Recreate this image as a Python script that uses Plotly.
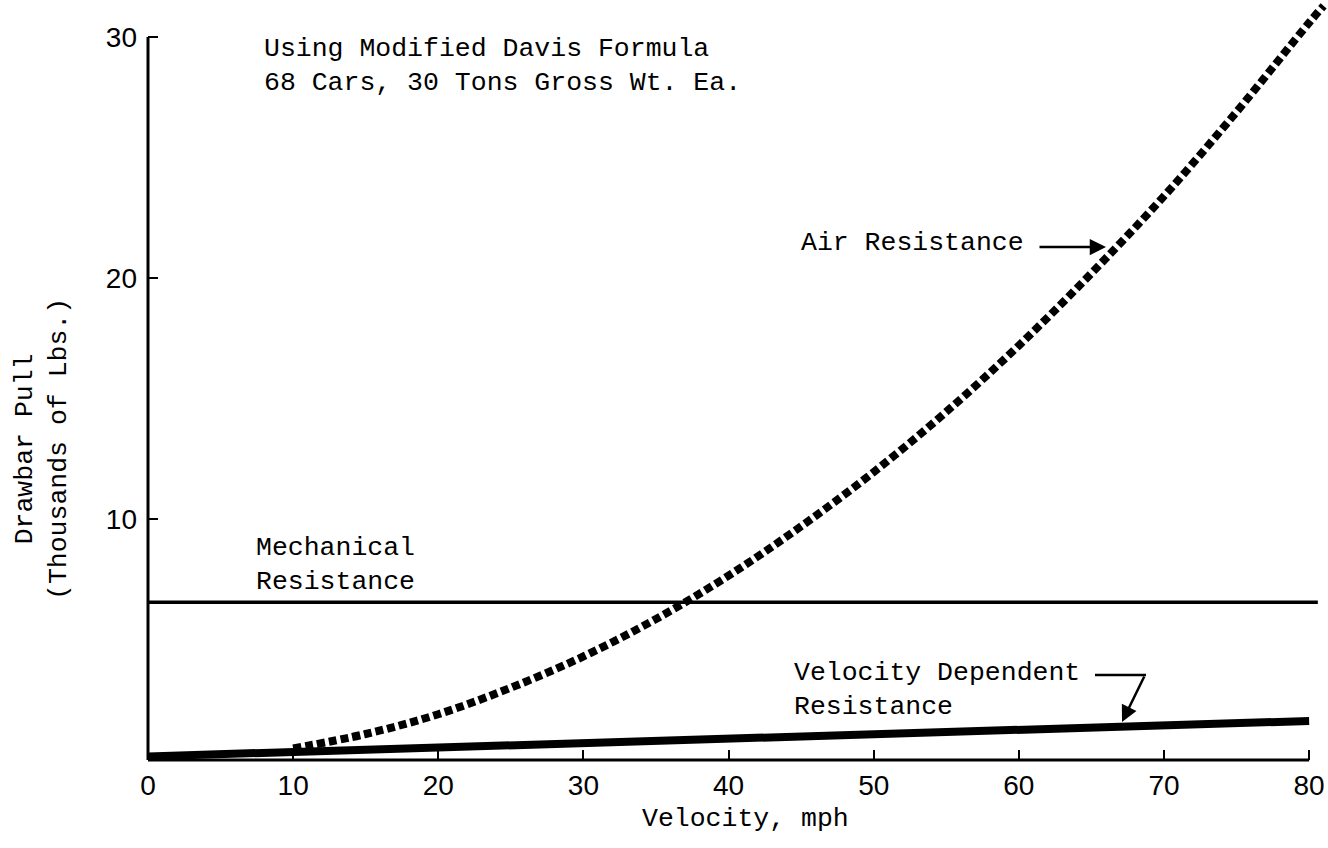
import plotly.graph_objects as go

# ---- data ----
velocity_mech = [0, 80.6]
mechanical = [6.55, 6.55]

velocity_vd = [0, 80]
velocity_dependent = [0.15, 1.62]

velocity_air = [10, 15, 20, 25, 30, 35, 40, 45, 50, 55, 60, 65, 70, 75, 80, 81]
air_resistance = [0.48, 1.08, 1.9, 3.0, 4.3, 5.85, 7.65, 9.7, 11.95, 14.45,
                  17.2, 20.2, 23.4, 26.9, 30.6, 31.3]

x_ticks = [0, 10, 20, 30, 40, 50, 60, 70, 80]
y_ticks = [10, 20, 30]

XMAX = 81.3
YMAX = 31.54

MONO = "Liberation Mono, Courier New, monospace"
SANS = "Liberation Sans, Arial, sans-serif"

# plot area in pixels (for placing labels)
L, R, T, B = 148, 0, 0, 88
W, H = 1328, 848
PW, PH = W - L - R, H - T - B


def px(x):
    return (x - L) / PW


def py(y):
    return (H - B - y) / PH


fig = go.Figure()

fig.add_trace(go.Scatter(x=velocity_mech, y=mechanical, mode="lines",
                         line=dict(color="black", width=3.5),
                         name="Mechanical Resistance", showlegend=False))
fig.add_trace(go.Scatter(x=velocity_vd, y=velocity_dependent, mode="lines",
                         line=dict(color="black", width=8),
                         name="Velocity Dependent Resistance", showlegend=False))
fig.add_trace(go.Scatter(x=velocity_air, y=air_resistance, mode="lines",
                         line=dict(color="black", width=8, dash="8px,4px",
                                   shape="spline"),
                         name="Air Resistance", showlegend=False))

annotations = []


def label(text, x, y, size=26.5, xanchor="left", yanchor="middle", angle=0, align="left"):
    annotations.append(dict(text=text, x=px(x), y=py(y), xref="paper", yref="paper",
                            xanchor=xanchor, yanchor=yanchor, showarrow=False,
                            textangle=angle, align=align,
                            font=dict(family=MONO, size=size, color="black")))


label("Using Modified Davis Formula<br>68 Cars, 30 Tons Gross Wt. Ea.", 262, 66)
label("Mechanical<br>Resistance", 254, 565)
label("Air Resistance", 799, 243)
label("Velocity Dependent<br>Resistance", 792, 690)
label("Velocity, mph", 745, 819, xanchor="center")
label("Drawbar Pull<br>(Thousands of Lbs.)", 42, 449, xanchor="center", angle=-90,
      align="center")

# arrows
annotations.append(dict(x=px(1106), y=py(247), xref="paper", yref="paper",
                        ax=-68, ay=0, axref="pixel", ayref="pixel", text="",
                        showarrow=True, arrowhead=2, arrowsize=1.3, arrowwidth=2.5,
                        arrowcolor="black"))
annotations.append(dict(x=px(1122), y=py(722), xref="paper", yref="paper",
                        ax=23, ay=-47, axref="pixel", ayref="pixel", text="",
                        showarrow=True, arrowhead=2, arrowsize=1.3, arrowwidth=2.5,
                        arrowcolor="black"))

shapes = [
    # y axis line (0..30)
    dict(type="line", xref="paper", yref="paper", x0=0, x1=0, y0=0, y1=30 / YMAX,
         line=dict(color="black", width=3)),
    # x axis line (0..80)
    dict(type="line", xref="paper", yref="paper", x0=0, x1=80 / XMAX, y0=0, y1=0,
         line=dict(color="black", width=3)),
    # leader for velocity-dependent label
    dict(type="line", xref="paper", yref="paper", x0=px(1095), x1=px(1146),
         y0=py(675), y1=py(675), line=dict(color="black", width=2.5)),
]

fig.update_layout(
    width=W, height=H,
    margin=dict(l=L, r=R, t=T, b=B, autoexpand=False),
    paper_bgcolor="white", plot_bgcolor="white",
    annotations=annotations, shapes=shapes,
    xaxis=dict(range=[0, XMAX], tickvals=x_ticks, ticktext=[str(v) for v in x_ticks],
               ticks="inside", ticklen=10, tickwidth=2, tickcolor="black",
               showgrid=False, zeroline=False, showline=False, automargin=False,
               ticklabelstandoff=6,
               tickfont=dict(family=SANS, size=28, color="black")),
    yaxis=dict(range=[0, YMAX], tickvals=y_ticks, ticktext=[str(v) for v in y_ticks],
               ticks="inside", ticklen=10, tickwidth=2, tickcolor="black",
               showgrid=False, zeroline=False, showline=False, automargin=False,
               ticklabelstandoff=10,
               tickfont=dict(family=SANS, size=28, color="black")),
)

fig.write_html("out.html",
               config={"displayModeBar": False},
               post_script="document.body.style.margin='0px';document.body.style.overflow='hidden';")
